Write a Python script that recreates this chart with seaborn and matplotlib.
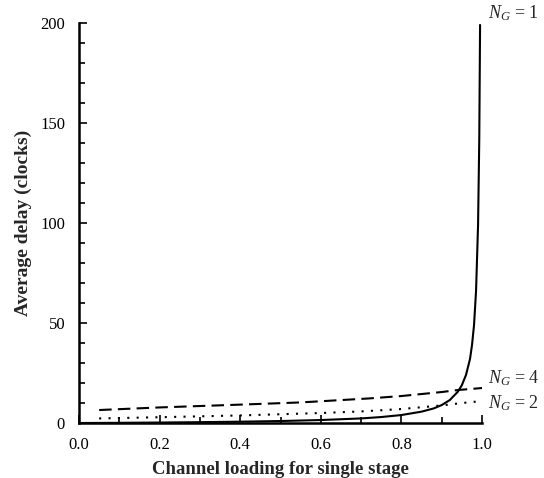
import numpy as np
import pandas as pd
import matplotlib
matplotlib.use("Agg")
import matplotlib.pyplot as plt
from matplotlib.ticker import MultipleLocator
import seaborn as sns

# Data
x_ng1 = [0.0, 0.05, 0.1, 0.2, 0.3, 0.4, 0.5, 0.6, 0.7, 0.75, 0.8, 0.85, 0.88, 0.9, 0.92, 0.94, 0.95,
         0.96, 0.97, 0.975, 0.98, 0.985, 0.99, 0.993, 0.995]
y_ng1 = [0.0, 0.05, 0.11, 0.25, 0.43, 0.67, 1.0, 1.5, 2.3, 3.0, 4.0, 5.7, 7.3, 9.0, 11.5, 15.7, 19.0,
         24.0, 32.0, 39.0, 49.0, 66.0, 99.0, 142.0, 199.0]

x_ng2 = [0.05, 0.2, 0.4, 0.5, 0.6, 0.7, 0.8, 0.9, 0.95, 1.0]
y_ng2 = [2.3, 2.9, 3.8, 4.4, 5.0, 5.8, 7.0, 8.8, 10.0, 11.0]

x_ng4 = [0.05, 0.2, 0.4, 0.55, 0.72, 0.8, 0.9, 0.94, 1.0]
y_ng4 = [6.5, 7.8, 9.2, 10.3, 12.3, 13.5, 15.5, 16.5, 17.5]

series_names = ["NG1", "NG2", "NG4"]
label_texts = [r"$N_G$ = $\mathit{1}$", r"$N_G$ = 2", r"$N_G$ = 4"]
label_y = [202.5, 7.5, 20.0]

df = pd.concat([
    pd.DataFrame({"x": x_ng1, "y": y_ng1, "s": "NG1"}),
    pd.DataFrame({"x": x_ng2, "y": y_ng2, "s": "NG2"}),
    pd.DataFrame({"x": x_ng4, "y": y_ng4, "s": "NG4"}),
])

sns.set_theme(style="ticks")
plt.rcParams["font.family"] = ["Liberation Serif", "DejaVu Serif"]
plt.rcParams["mathtext.fontset"] = "custom"
plt.rcParams["mathtext.it"] = "Liberation Serif:italic"
plt.rcParams["mathtext.rm"] = "Liberation Serif"

fig = plt.figure(figsize=(5.44, 4.78), dpi=100)
ax = fig.add_axes([0.1452, 0.115, 0.741, 0.837])

sns.lineplot(data=df, x="x", y="y", style="s", style_order=series_names,
             dashes={"NG1": "", "NG2": (1, 3.5), "NG4": (6, 3)},
             color="black", linewidth=1.5, legend=False, ax=ax, estimator=None, sort=False)

ax.set_xlim(0, 1.0)
ax.set_ylim(0, 200)
ax.xaxis.set_major_locator(MultipleLocator(0.2))
ax.xaxis.set_minor_locator(MultipleLocator(0.1))
ax.yaxis.set_major_locator(MultipleLocator(50))
ax.yaxis.set_minor_locator(MultipleLocator(10))
ax.set_xticks(ax.get_xticks())
ax.set_xticklabels([f"{v:.1f}" for v in ax.get_xticks()])
ax.set_xlim(0, 1.0)
ax.tick_params(which="both", direction="in", color="black", labelsize=12, labelcolor="black", width=1.2, pad=10)
ax.tick_params(which="major", length=6)
ax.tick_params(which="minor", length=4)
for s in ["top", "right"]:
    ax.spines[s].set_visible(False)
for s in ["left", "bottom"]:
    ax.spines[s].set_linewidth(1.8)
    ax.spines[s].set_color("black")

ax.set_xlabel("Channel loading for single stage", fontsize=13.5, fontweight="bold", labelpad=6)
ax.set_ylabel("Average delay (clocks)", fontsize=14, fontweight="bold", labelpad=6)

for txt, yy in zip(label_texts, label_y):
    ax.text(1.015, yy, txt, fontsize=13, va="baseline", ha="left", clip_on=False)

fig.savefig("out.png", dpi=100)
